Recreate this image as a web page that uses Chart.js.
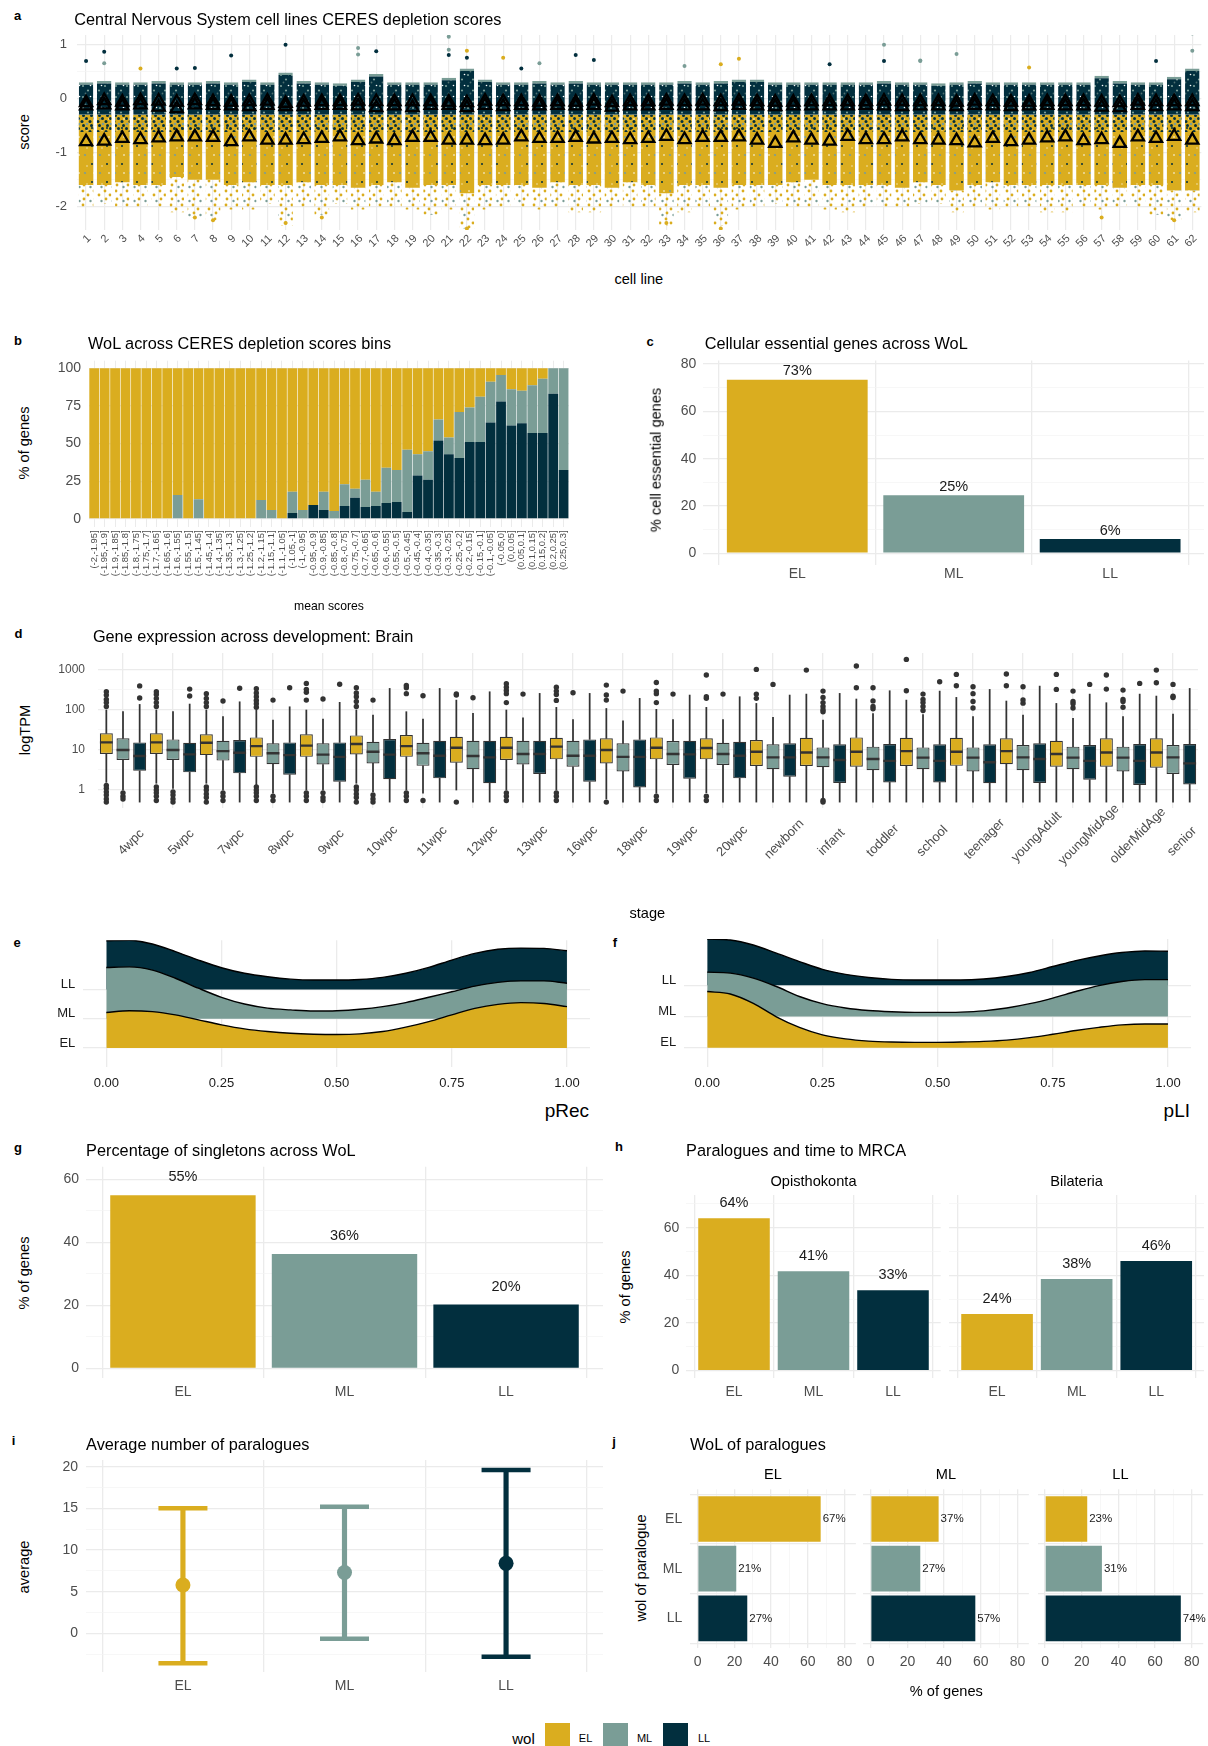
<!DOCTYPE html>
<html>
<head>
<meta charset="utf-8">
<title>WoL figure</title>
<script src="https://cdn.jsdelivr.net/npm/chart.js@4.4.1/dist/chart.umd.min.js"></script>
<style>
html,body{margin:0;padding:0;background:#fff;}
#root{position:relative;width:1208px;height:1746px;overflow:hidden;background:#fff;font-family:"Liberation Sans",Arial,Helvetica,sans-serif;}
#root canvas{position:absolute;}
.t{position:absolute;white-space:nowrap;line-height:1;color:#000;}
.sw{position:absolute;}
</style>
</head>
<body>
<div id="root"></div>
<script>
// ================= DATA =================
const WOL = ['EL','ML','LL'];

// ---- a: CERES depletion scores per cell line
const aCells = ['1','2','3','4','5','6','7','8','9','10','11','12','13','14','15','16','17','18','19','20','21','22','23','24','25','26','27','28','29','30','31','32','33','34','35','36','37','38','39','40','41','42','43','44','45','46','47','48','49','50','51','52','53','54','55','56','57','58','59','60','61','62'];
const aTop = [0.3,0.32,0.3,0.3,0.32,0.3,0.3,0.32,0.3,0.35, 0.3,0.48,0.32,0.3,0.28,0.35,0.45,0.3,0.3,0.3, 0.38,0.55,0.35,0.3,0.3,0.32,0.3,0.32,0.3,0.3, 0.3,0.3,0.3,0.32,0.3,0.32,0.35,0.35,0.3,0.3, 0.3,0.3,0.3,0.3,0.32,0.3,0.3,0.28,0.3,0.32, 0.3,0.3,0.3,0.3,0.3,0.3,0.42,0.32,0.3,0.3, 0.4,0.55];
const aDenseLow = [-1.6,-1.6,-1.55,-1.6,-1.6,-1.45,-1.5,-1.5,-1.6,-1.55, -1.6,-1.6,-1.55,-1.6,-1.6,-1.65,-1.6,-1.55,-1.65,-1.6, -1.6,-1.75,-1.6,-1.6,-1.6,-1.65,-1.55,-1.6,-1.6,-1.65, -1.55,-1.6,-1.75,-1.6,-1.6,-1.65,-1.6,-1.6,-1.6,-1.55, -1.5,-1.6,-1.6,-1.6,-1.6,-1.65,-1.55,-1.6,-1.7,-1.6, -1.55,-1.6,-1.6,-1.6,-1.6,-1.6,-1.6,-1.65,-1.6,-1.6, -1.7,-1.7];
const aMin = [-2.0,-1.95,-2.0,-2.0,-2.0,-2.1,-2.2,-2.25,-2.05,-2.05, -1.95,-2.35,-2.0,-2.15,-1.95,-2.05,-2.0,-2.0,-2.05,-2.15, -2.05,-2.4,-2.05,-2.0,-2.0,-2.05,-2.0,-2.1,-2.1,-2.0, -2.0,-2.0,-2.35,-2.1,-2.0,-2.35,-2.05,-2.0,-1.95,-2.0, -2.0,-2.05,-2.1,-2.0,-2.0,-2.0,-1.95,-1.95,-2.1,-2.0, -2.05,-2.0,-2.0,-2.1,-2.1,-2.0,-2.05,-2.0,-2.0,-2.15, -2.25,-2.1];
const aDarkLow = -0.3;   // lower edge of the dense late-lineage cloud
const aMixLow = -0.62;   // lower edge of the mixed cloud
const aELMean = [-0.80,-0.79,-0.74,-0.76,-0.73,-0.71,-0.71,-0.72,-0.80,-0.71, -0.77,-0.77,-0.76,-0.74,-0.71,-0.78,-0.75,-0.78,-0.72,-0.72, -0.77,-0.77,-0.78,-0.77,-0.71,-0.74,-0.74,-0.72,-0.75,-0.74, -0.76,-0.74,-0.70,-0.76,-0.72,-0.72,-0.71,-0.77,-0.83,-0.73, -0.77,-0.79,-0.70,-0.76,-0.76,-0.71,-0.76,-0.77,-0.78,-0.82, -0.74,-0.80,-0.77,-0.73,-0.71,-0.78,-0.76,-0.83,-0.71,-0.74, -0.70,-0.77];
const aMLMean = [-0.14,-0.12,-0.14,-0.12,-0.16,-0.19,-0.12,-0.13,-0.14,-0.15, -0.13,-0.15,-0.15,-0.13,-0.13,-0.14,-0.17,-0.14,-0.17,-0.13, -0.13,-0.17,-0.13,-0.15,-0.13,-0.14,-0.13,-0.14,-0.13,-0.16, -0.14,-0.14,-0.13,-0.14,-0.14,-0.15,-0.13,-0.14,-0.15,-0.14, -0.14,-0.14,-0.14,-0.13,-0.14,-0.15,-0.14,-0.14,-0.15,-0.13, -0.14,-0.15,-0.14,-0.13,-0.14,-0.14,-0.16,-0.17,-0.13,-0.15, -0.14,-0.15];
const aLLMean = [-0.08,-0.04,-0.07,-0.04,-0.05,-0.07,-0.04,-0.06,-0.07,-0.06, -0.05,-0.09,-0.07,-0.06,-0.06,-0.05,-0.06,-0.06,-0.06,-0.06, -0.07,-0.08,-0.05,-0.06,-0.06,-0.07,-0.06,-0.07,-0.05,-0.08, -0.06,-0.06,-0.05,-0.06,-0.05,-0.06,-0.05,-0.06,-0.07,-0.07, -0.06,-0.06,-0.06,-0.06,-0.05,-0.06,-0.06,-0.06,-0.07,-0.05, -0.06,-0.07,-0.07,-0.06,-0.06,-0.06,-0.07,-0.08,-0.05,-0.06, -0.06,-0.06];
const aOutLL = [[1,0.69],[2,0.86],[6,0.55],[7,0.56],[9,0.79],[12,0.99],[17,0.87],[21,0.8],[22,0.75],[25,0.55],[28,0.8],[29,0.71],[42,0.63],[45,0.69],[60,0.69]];
const aOutML = [[2,0.65],[16,0.93],[16,0.81],[21,0.9],[21,1.14],[26,0.65],[34,0.6],[45,0.99],[47,0.7],[47,0.69],[49,0.82],[62,1.2],[62,0.88]];
const aOutEL = [[4,0.55],[22,0.88],[24,0.75],[36,0.63],[37,0.73],[53,0.57],[7,-2.2],[8,-2.25],[12,-2.3],[14,-2.2],[22,-2.4],[33,-2.3],[36,-2.4],[57,-2.2],[61,-2.25]];

// ---- b: WoL across CERES bins (percent of genes)
const bBins = ['(-2,-1.95]','(-1.95,-1.9]','(-1.9,-1.85]','(-1.85,-1.8]','(-1.8,-1.75]','(-1.75,-1.7]','(-1.7,-1.65]','(-1.65,-1.6]','(-1.6,-1.55]','(-1.55,-1.5]','(-1.5,-1.45]','(-1.45,-1.4]','(-1.4,-1.35]','(-1.35,-1.3]','(-1.3,-1.25]','(-1.25,-1.2]','(-1.2,-1.15]','(-1.15,-1.1]','(-1.1,-1.05]','(-1.05,-1]','(-1,-0.95]','(-0.95,-0.9]','(-0.9,-0.85]','(-0.85,-0.8]','(-0.8,-0.75]','(-0.75,-0.7]','(-0.7,-0.65]','(-0.65,-0.6]','(-0.6,-0.55]','(-0.55,-0.5]','(-0.5,-0.45]','(-0.45,-0.4]','(-0.4,-0.35]','(-0.35,-0.3]','(-0.3,-0.25]','(-0.25,-0.2]','(-0.2,-0.15]','(-0.15,-0.1]','(-0.1,-0.05]','(-0.05,0]','(0,0.05]','(0.05,0.1]','(0.1,0.15]','(0.15,0.2]','(0.2,0.25]','(0.25,0.3]'];
const bLL = [0,0,0,0,0,0,0,0,0,0, 0,0,0,0,0,0,0,0,0,4, 0,9.3,6,0,8.6,14,8,8.6,10.6,11.3, 4.6,28.8,26,52,43,40.5,51,51,64,78, 62,63.5,57,57,83,32.5];
const bML = [0,0,0,0,0,0,0,0,15.9,0, 13,0,0,0,0,0,12.6,6,0,14, 6,0,12,5.3,14.4,6,18,9.4,23.4,21.2, 41.4,14.2,19,14,11,30.5,23,30,27,17.5, 24,21.5,31.7,36,17,67.5];
const bEL = [100,100,100,100,100,100,100,100,84.1,100, 87,100,100,100,100,100,87.4,94,100,82, 94,90.7,82,94.7,77,80,74,82,66,67.5, 54,57,55,34,46,29,26,19,9,4.5, 14,15,11.3,7,0,0];

// ---- c: cellular essential genes
const cValues = [73.4, 24.5, 6.0];
const cTexts = ['73%','25%','6%'];

// ---- d: gene expression boxplots (TPM)
const dStages = ['4wpc','5wpc','7wpc','8wpc','9wpc','10wpc','11wpc','12wpc','13wpc','16wpc','18wpc','19wpc','20wpc','newborn','infant','toddler','school','teenager','youngAdult','youngMidAge','olderMidAge','senior'];
const dELlo  = [1.55,1.47,1.47,1.33,1.0,1.47,1.0,1.0,1.0,1.0,0.6,0.83,0.86,0.5,0.5,0.5,0.5,0.5,0.5,0.5,0.5,0.5];
const dELq1  = [7.9,7.9,7.4,6.7,6.7,7.7,6.7,4.8,5.6,5.8,4.6,5.8,5.8,3.95,3.95,3.8,3.95,4.0,4.4,3.8,3.8,3.6];
const dELmed = [15.3,15.3,15.0,12.4,12.7,14.0,12.4,11.3,11.3,12.0,9.9,11.3,11.1,9.0,8.6,9.0,9.3,9.0,9.3,7.9,8.6,8.6];
const dELq3  = [25.7,25.7,24.3,20.4,24.3,22.9,23.4,21.2,21.2,20.0,19.3,20.4,19.3,17.5,20.0,20.4,20.0,20.0,19.3,16.9,19.3,19.3];
const dELhi  = [98,98,98,98,98,98,89,173,98,114,107,102,114,143,244,184,173,202,164,143,149,218];
const dMLlo  = [1.0,1.1,1.0,0.83,1.0,0.91,0.83,0.5,0.5,0.5,0.5,0.5,0.5,0.5,0.6,0.5,0.5,0.5,0.5,0.5,0.5,0.5];
const dMLq1  = [5.6,5.6,5.4,4.4,4.3,4.6,4.0,3.3,4.3,3.8,2.9,4.2,4.2,3.3,3.7,3.1,3.3,2.9,3.1,3.3,2.9,2.5];
const dMLmed = [9.9,9.9,9.3,8.2,7.6,9.0,8.2,7.0,7.9,7.1,6.7,7.9,7.9,6.5,6.5,5.9,6.4,6.4,6.5,6.4,6.4,6.5];
const dMLq3  = [19.3,18.2,16.9,14.5,14.5,15.9,15.0,16.9,16.9,16.9,14.5,16.6,15.0,13.7,11.5,12.0,11.5,11.5,13.2,12.0,12.0,13.2];
const dMLhi  = [89,89,67,55,58,73,58,81,63,57,53,57,57,64,55,80,75,67,73,61,67,78];
const dLLlo  = [0.5,0.5,0.5,0.5,0.5,0.5,0.5,0.5,0.5,0.5,0.5,0.5,0.5,0.5,0.5,0.5,0.5,0.5,0.5,0.5,0.5,0.5];
const dLLq1  = [3.0,2.75,2.6,2.4,1.6,1.85,1.95,1.47,2.5,1.6,1.16,1.9,1.95,2.15,1.5,1.55,1.55,1.47,1.5,1.8,1.33,1.38];
const dLLmed = [7.0,7.7,8.5,7.4,6.7,7.6,7.1,6.5,7.9,7.1,6.7,7.7,7.1,6.5,5.6,5.3,5.3,4.9,5.9,5.3,5.3,4.6];
const dLLq3  = [15.3,15.0,17.5,15.3,15.3,18.6,16.9,16.9,16.9,18.2,18.2,16.9,15.9,14.5,13.7,13.9,13.7,13.7,14.5,13.2,13.9,13.9];
const dLLhi  = [135,138,157,118,152,338,338,279,254,254,191,231,210,231,254,296,290,319,386,244,244,338];
const dELout = [[120,150,180,230,280,1.3,1.1,0.9,0.75,0.6,0.5],[120,150,190,240,280,1.2,1.0,0.85,0.7,0.55],[120,150,190,250,1.2,1.0,0.8,0.65,0.5],[115,140,170,210,260,330,1.2,1.0,0.85,0.7,0.55],[173,270,320,450,0.85,0.7,0.55],[120,160,210,260,350,1.2,1.0,0.8,0.65,0.5],[250,350,400,0.85,0.7,0.55],[230,245,0.5],[150,250,300,360,440,0.85,0.7,0.55],[170,240,290,360,0.85,0.7,0.55],[173,231,409,0.5],[150,250,290,476,0.7,0.55],[191,210,726,0.7,0.55],[191,244,1005],[966],[351,1215],[296,1780],[394,754],[394,769],[319,754],[325,726],[468,966]];
const dMLout = [[0.85,0.7,0.6],[0.9,0.75,0.6,0.5],[164,0.85,0.7,0.55],[173,0.7,0.55],[184,0.85,0.65,0.55],[173,0.75,0.6,0.5],[222,0.55],[198],[244],[264],[290],[244],[244],[425],[89,100,120,150,200,290,0.55,0.5],[105,120,165,351],[95,120,150,180,244],[110,160,250,372],[145,175,372],[110,140,160,290],[115,160,180,307],[200,215,425]];
const dLLout = [[195,390],[218,325],[340],[350],[430],[],[],[],[],[],[],[],[],[],[],[],[495],[],[],[425],[450],[]];

// ---- e / f: ridgeline densities (height above each WoL baseline)
const ridgeX = [0,0.05,0.1,0.15,0.2,0.25,0.3,0.35,0.4,0.45,0.5,0.55,0.6,0.65,0.7,0.75,0.8,0.85,0.9,0.95,1];
const eEL = [1.21,1.27,1.24,1.13,0.96,0.79,0.65,0.56,0.50,0.47,0.46,0.48,0.56,0.71,0.90,1.13,1.35,1.49,1.55,1.52,1.41];
const eML = [1.75,1.77,1.66,1.38,1.04,0.73,0.50,0.36,0.30,0.26,0.27,0.32,0.41,0.55,0.73,0.92,1.11,1.24,1.29,1.29,1.21];
const eLL = [1.66,1.68,1.55,1.29,1.00,0.74,0.55,0.43,0.35,0.32,0.32,0.34,0.41,0.55,0.75,1.00,1.23,1.37,1.41,1.40,1.32];
const fEL = [1.80,1.72,1.42,0.99,0.65,0.41,0.28,0.21,0.18,0.17,0.17,0.18,0.20,0.24,0.32,0.43,0.55,0.65,0.73,0.76,0.76];
const fML = [1.42,1.39,1.23,0.96,0.64,0.41,0.27,0.19,0.15,0.13,0.13,0.14,0.18,0.27,0.41,0.59,0.80,0.99,1.12,1.18,1.18];
const fLL = [1.48,1.45,1.29,1.03,0.76,0.51,0.35,0.25,0.19,0.17,0.17,0.17,0.20,0.28,0.41,0.60,0.79,0.94,1.05,1.10,1.09];

// ---- g: singletons
const gValues = [55.0, 36.3, 20.3];
const gTexts = ['55%','36%','20%'];

// ---- h: paralogues and time to MRCA
const hFacets = ['Opisthokonta','Bilateria'];
const hOpis = [63.9, 41.7, 33.7];
const hOpisTexts = ['64%','41%','33%'];
const hBil = [23.8, 38.4, 46.0];
const hBilTexts = ['24%','38%','46%'];

// ---- i: average number of paralogues
const iMean = [5.8, 7.3, 8.4];
const iLow = [-3.6, -0.65, -2.8];
const iHigh = [15.0, 15.2, 19.6];

// ---- j: WoL of paralogues (facet = WoL of gene, bars = WoL of paralogue)
const jEL = [67, 21, 27]; const jELTexts = ['67%','21%','27%'];
const jML = [37, 27, 57]; const jMLTexts = ['37%','27%','57%'];
const jLL = [23, 31, 74]; const jLLTexts = ['23%','31%','74%'];

// ================= STYLE / HELPERS =================
const COL = {EL:'#DAAD1F', ML:'#7A9D96', LL:'#022F3E'};
const WCOL = [COL.EL, COL.ML, COL.LL];
const GMAJ = '#EBEBEB', GMIN = '#F3F3F3';
const FONT = '"Liberation Sans", Arial, Helvetica, sans-serif';

Chart.defaults.font.family = FONT;
Chart.defaults.color = '#4D4D4D';
Chart.defaults.animation = false;
Chart.defaults.responsive = false;
Chart.defaults.maintainAspectRatio = false;
Chart.defaults.events = [];
Chart.defaults.plugins.legend.display = false;
Chart.defaults.plugins.tooltip.enabled = false;

// value labels next to bars (positions taken from the bar elements / value scale)
Chart.register({
  id: 'barText',
  afterDatasetsDraw(chart, args, o) {
    if (!o || !o.texts) return;
    const meta = chart.getDatasetMeta(0);
    const ctx = chart.ctx;
    ctx.save();
    ctx.font = (o.size || 14) + 'px ' + FONT;
    ctx.fillStyle = o.color || '#1A1A1A';
    ctx.textBaseline = 'middle';
    meta.data.forEach((el, i) => {
      if (o.horizontal) {
        ctx.textAlign = 'left';
        ctx.fillText(o.texts[i], chart.scales.x.getPixelForValue(o.values[i]) + (o.gap || 2), el.y);
      } else {
        ctx.textAlign = 'center';
        ctx.fillText(o.texts[i], el.x, chart.scales.y.getPixelForValue(o.values[i] + o.offset));
      }
    });
    ctx.restore();
  }
});

// rotated category labels placed like ggplot's angle=45 axis text (positions from the x scale ticks)
Chart.register({
  id: 'rotLabels',
  afterDraw(chart, args, o) {
    if (!o || !o.labels) return;
    const sx = chart.scales.x, ctx = chart.ctx, area = chart.chartArea;
    ctx.save();
    ctx.font = (o.size || 13) + 'px ' + FONT;
    ctx.fillStyle = o.color || '#4D4D4D';
    ctx.textBaseline = 'middle';
    ctx.textAlign = 'left';
    o.labels.forEach((lab, k) => {
      const px = sx.getPixelForTick(o.first + k * o.step);
      const w = ctx.measureText(lab).width;
      ctx.save();
      ctx.translate(px + o.dx, area.bottom + o.dy);
      ctx.rotate(-Math.PI / 4);
      ctx.fillText(lab, -o.h * w, 0);
      ctx.restore();
    });
    ctx.restore();
  }
});

const root = document.getElementById('root');
const setTicks = vals => s => { s.ticks = vals.map(v => ({value: v})); };
const majorLabel = (majors, fmt) => v => majors.includes(v) ? (fmt ? fmt(v) : String(v)) : '';
const tv = c => (c.tick ? c.tick.value : null);
const mmGrid = majors => ({drawTicks:false, color: c => majors.includes(tv(c)) ? GMAJ : GMIN, lineWidth: c => majors.includes(tv(c)) ? 1.3 : 0.7});
const NB = {display:false};

// texture that imitates a dense cloud of jittered points (style only)
function dotPattern(bg, dots, w, h) {
  const c = document.createElement('canvas');
  c.width = w; c.height = h;
  const g = c.getContext('2d');
  if (bg) { g.fillStyle = bg; g.fillRect(0, 0, w, h); }
  dots.forEach(d => { g.fillStyle = d[3]; g.beginPath(); g.arc(d[0], d[1], d[2], 0, Math.PI * 2); g.fill(); });
  return g.createPattern(c, 'repeat');
}

function makeChart(area, yw, xh, padT, padR, cfg) {
  padT = Math.max(padT, 28);
  const left = Math.floor(area.l - yw), top = Math.floor(area.t - padT);
  const right = Math.ceil(area.r + padR), bottom = Math.ceil(area.b + xh);
  const W = right - left, H = bottom - top;
  const c = document.createElement('canvas');
  c.width = W; c.height = H;
  c.style.left = left + 'px'; c.style.top = top + 'px';
  c.style.width = W + 'px'; c.style.height = H + 'px';
  root.appendChild(c);
  const ywR = area.l - left, xhR = bottom - area.b;
  cfg.options.layout = {autoPadding:false, padding: {left: 0, right: right - area.r, top: area.t - top, bottom: 0}};
  cfg.options.scales.x.afterFit = s => { s.height = xhR; };
  cfg.options.scales.y.afterFit = s => { s.width = ywR; };
  return new Chart(c, cfg);
}

function txt(s, x, y, o) {
  o = o || {};
  const d = document.createElement('div');
  d.className = 't';
  d.textContent = s;
  d.style.fontSize = (o.size || 14.6) + 'px';
  if (o.bold) d.style.fontWeight = 'bold';
  if (o.color) d.style.color = o.color;
  d.style.left = x + 'px'; d.style.top = y + 'px';
  const ax = o.align === 'l' ? '0' : (o.align === 'r' ? '-100%' : '-50%');
  d.style.transform = 'translate(' + ax + ',-50%)' + (o.rot ? ' rotate(-90deg)' : '');
  root.appendChild(d);
}
function swatch(x, y, w, h, color) {
  const d = document.createElement('div');
  d.className = 'sw';
  d.style.left = x + 'px'; d.style.top = y + 'px';
  d.style.width = w + 'px'; d.style.height = h + 'px';
  d.style.background = color;
  root.appendChild(d);
}

// ================= PANEL a =================
(function () {
  const pDark = dotPattern(COL.LL, [[2,2,1.1,COL.ML],[7,6.5,1.1,COL.ML],[4.5,9.5,0.9,'#4f6f70'],[9.5,1.5,0.8,'#ffffff']], 11, 11);
  const pMix = dotPattern(null, [[1.5,1.5,1.5,COL.LL],[5,4.5,1.5,COL.LL],[2,7,1.3,COL.ML],[6.5,8.5,1.5,COL.LL]], 8, 10);
  const pEL = dotPattern(COL.EL, [[3,4,1.1,COL.ML],[10,13,1.0,COL.LL],[12,4,0.8,'#ffffff'],[5,15,0.8,'#f3e3b0']], 15, 18);
  const pSparse = dotPattern(null, [[2,2,1.4,COL.EL],[7,6,1.4,COL.EL],[3,10,1.4,COL.EL],[9.5,12,1.2,COL.ML]], 11, 14);
  const tri = data => ({type:'line', data, showLine:false, pointStyle:'triangle', pointRadius:7, pointBorderWidth:2.3, pointBorderColor:'#000', pointBackgroundColor:'rgba(0,0,0,0)'});
  const pts = (list, color) => ({type:'scatter', data: list.map(p => ({x: String(p[0]), y: p[1]})), pointRadius:2, pointBackgroundColor: color, pointBorderWidth:0});
  const bar = (data, color, extra) => Object.assign({type:'bar', data, backgroundColor: color, grouped:false, barPercentage:0.8, categoryPercentage:1}, extra || {});
  makeChart({l:77, r:77 + 62 * 18.135, t:35, b:230}, 40, 24, 6, 5, {
    type:'bar',
    data:{labels:aCells, datasets:[
      tri(aLLMean), tri(aMLMean), tri(aELMean),
      pts(aOutLL, COL.LL), pts(aOutML, COL.ML), pts(aOutEL, COL.EL),
      bar(aTop.map(t => [aDarkLow, t]), pDark, {borderColor: COL.ML, borderWidth:{top:2.5, left:0, right:0, bottom:0}, borderSkipped:false}),
      bar(aTop.map(() => [aMixLow, aDarkLow]), pMix),
      bar(aDenseLow.map(v => [v, aDarkLow]), pEL),
      bar(aMin.map((v, i) => [v, aDenseLow[i]]), pSparse)
    ]},
    options:{scales:{
      x:{type:'category', offset:true, grid:{offset:false, color:GMAJ, lineWidth:1.2, drawTicks:false}, border:NB,
         ticks:{font:{size:11}, minRotation:45, maxRotation:45, autoSkip:false, padding:2, labelOffset:3}},
      y:{type:'linear', min:-2.43, max:1.17, afterBuildTicks: setTicks([-2,-1.5,-1,-0.5,0,0.5,1]),
         ticks:{callback: majorLabel([-2,-1,0,1]), font:{size:13}, padding:10, autoSkip:false}, grid: mmGrid([-2,-1,0,1]), border:NB}
    }}
  });
})();

// ================= PANEL b =================
makeChart({l:89, r:89 + 46 * 10.465, t:360.7, b:526.5}, 42, 58, 8, 8, {
  type:'bar',
  data:{labels:bBins, datasets:[
    {data:bLL, backgroundColor:COL.LL},
    {data:bML, backgroundColor:COL.ML},
    {data:bEL, backgroundColor:COL.EL}
  ]},
  options:{datasets:{bar:{barPercentage:0.94, categoryPercentage:1}}, scales:{
    x:{stacked:true, grid:{offset:false, color:GMAJ, lineWidth:1, drawTicks:false}, border:NB,
       ticks:{font:{size:9.4}, minRotation:90, maxRotation:90, autoSkip:false, padding:4}},
    y:{stacked:true, min:-5, max:105, afterBuildTicks: setTicks([0,25,50,75,100]),
       ticks:{font:{size:14}, padding:8, autoSkip:false}, grid:{color:GMAJ, lineWidth:1.3, drawTicks:false}, border:NB}
  }}
});

// ================= vertical 3-bar helper (c, g, h) =================
function vBars(area, values, texts, yMin, yMax, majors, minors, showY, tickSize, xPad, textOff, textSize) {
  return makeChart(area, showY ? 40 : 6, 30, 12, 4, {
    type:'bar',
    data:{datasets:[{data: values.map((v, i) => ({x:i, y:v})), backgroundColor: WCOL, barPercentage:0.9, categoryPercentage:1}]},
    options:{
      plugins:{barText:{texts, values, offset:textOff, size:textSize}},
      scales:{
        x:{type:'linear', offset:false, min:-0.6, max:2.6, afterBuildTicks: setTicks([0,1,2]),
           ticks:{callback: v => WOL[v], font:{size:tickSize}, padding:xPad, autoSkip:false, maxRotation:0}, grid:{color:GMAJ, lineWidth:1.3, drawTicks:false}, border:NB},
        y:{type:'linear', min:yMin, max:yMax, afterBuildTicks: setTicks(majors.concat(minors).sort((a, b) => a - b)),
           ticks:{display:showY, callback: majorLabel(majors), font:{size:tickSize}, padding:7, autoSkip:false}, grid: mmGrid(majors), border:NB}
      }
    }
  });
}

// ================= PANEL c =================
vBars({l:703.4, r:1204, t:360.6, b:565}, cValues, cTexts, -5, 81.5, [0,20,40,60,80], [10,30,50,70], true, 14, 1, 3.5, 14.5);

// ================= PANEL d =================
(function () {
  const labels = [];
  dStages.forEach(s => WOL.forEach(w => labels.push(s + ' ' + w)));
  const inter = (a, b, c) => { const r = []; for (let i = 0; i < a.length; i++) r.push(a[i], b[i], c[i]); return r; };
  const lo = inter(dELlo, dMLlo, dLLlo), q1 = inter(dELq1, dMLq1, dLLq1), med = inter(dELmed, dMLmed, dLLmed);
  const q3 = inter(dELq3, dMLq3, dLLq3), hi = inter(dELhi, dMLhi, dLLhi);
  const colors = labels.map((_, i) => WCOL[i % 3]);
  const outliers = [];
  [dELout, dMLout, dLLout].forEach((list, k) => list.forEach((vals, s) => vals.forEach(v => outliers.push({x: labels[s * 3 + k], y: v}))));
  const majors = [1, 10, 100, 1000];
  makeChart({l:98, r:98 + 66 * 16.667, t:653, b:808}, 45, 80, 8, 6, {
    type:'bar',
    data:{labels, datasets:[
      {type:'scatter', data: outliers, pointRadius:2.7, pointBackgroundColor:'#333333', pointBorderWidth:0},
      {type:'line', data: med, showLine:false, pointStyle:'line', pointRadius:6.4, pointBorderWidth:2.4, pointBorderColor:'#333333'},
      {type:'bar', data: q1.map((v, i) => [v, q3[i]]), backgroundColor: colors, borderColor:'#333333', borderWidth:1.2, borderSkipped:false, grouped:false, barPercentage:0.78, categoryPercentage:1},
      {type:'bar', data: lo.map((v, i) => [v, q1[i]]), backgroundColor:'#333333', barThickness:1.1, grouped:false},
      {type:'bar', data: q3.map((v, i) => [v, hi[i]]), backgroundColor:'#333333', barThickness:1.1, grouped:false}
    ]},
    options:{
      plugins:{rotLabels:{labels: dStages, first:1, step:3, dx:3.5, dy:39, h:0.28, size:13}},
      scales:{
      x:{type:'category', offset:true, border:NB,
         grid:{offset:false, drawTicks:false, lineWidth:1.3, color: c => (c.index % 3 === 1 ? GMAJ : 'rgba(0,0,0,0)')},
         ticks:{callback: () => '', autoSkip:false, maxRotation:0}},
      y:{type:'logarithmic', min:0.357, max:2570, afterBuildTicks: setTicks([1, 3.1623, 10, 31.623, 100, 316.23, 1000]),
         ticks:{callback: majorLabel(majors), font:{size:12}, padding:13, autoSkip:false}, grid: mmGrid(majors), border:NB}
    }}
  });
})();

// ================= PANELS e, f (ridgelines) =================
function ridges(area, yMin, yMax, hEL, hML, hLL) {
  const ds = (h, base, color) => ({data: ridgeX.map((x, i) => ({x, y: base + h[i]})), fill:{value: base}, backgroundColor: color,
    borderColor:'#000', borderWidth:1.4, pointRadius:0, cubicInterpolationMode:'monotone'});
  return makeChart(area, 40, 32, 6, 6, {
    type:'line',
    data:{datasets:[ds(hEL, 1, COL.EL), ds(hML, 2, COL.ML), ds(hLL, 3, COL.LL)]},
    options:{scales:{
      x:{type:'linear', min:-0.05, max:1.05, afterBuildTicks: setTicks([0,0.25,0.5,0.75,1]),
         ticks:{callback: v => v.toFixed(2), font:{size:13}, color:'#1A1A1A', padding:9, autoSkip:false, maxRotation:0}, grid:{color:GMAJ, lineWidth:1.3, drawTicks:false}, border:NB},
      y:{type:'linear', min:yMin, max:yMax, afterBuildTicks: setTicks([1,2,3]),
         ticks:{callback: v => WOL[v - 1], font:{size:13}, color:'#1A1A1A', padding:8, labelOffset:-5, autoSkip:false}, grid:{color:GMAJ, lineWidth:1.3, drawTicks:false}, border:NB}
    }}
  });
}
ridges({l:83.3, r:590, t:940.2, b:1067}, 0.35, 4.68, eEL, eML, eLL);
ridges({l:684.2, r:1191, t:939.1, b:1067}, 0.38, 4.48, fEL, fML, fLL);

// ================= PANEL g =================
vBars({l:86, r:603, t:1166.7, b:1378}, gValues, gTexts, -3.05, 64.05, [0,20,40,60], [10,30,50], true, 14, 6, 5.7, 14.5);

// ================= PANEL h =================
vBars({l:686.3, r:940.7, t:1195, b:1378}, hOpis, hOpisTexts, -3.1, 73.7, [0,20,40,60], [10,30,50,70], true, 14, 6, 6.3, 14.5);
vBars({l:949.3, r:1204, t:1195, b:1378}, hBil, hBilTexts, -3.1, 73.7, [0,20,40,60], [10,30,50,70], false, 14, 6, 6.3, 14.5);

// ================= PANEL i =================
makeChart({l:86, r:603, t:1460, b:1671.7}, 40, 30, 10, 4, {
  type:'bar',
  data:{datasets:[
    {type:'scatter', data: iMean.map((m, i) => ({x:i, y:m})), pointRadius:7.5, pointBackgroundColor: WCOL, pointBorderWidth:0},
    {type:'scatter', data: iHigh.map((v, i) => ({x:i, y:v})), pointStyle:'line', pointRadius:24.5, pointBorderWidth:4.5, pointBorderColor: WCOL},
    {type:'scatter', data: iLow.map((v, i) => ({x:i, y:v})), pointStyle:'line', pointRadius:24.5, pointBorderWidth:4.5, pointBorderColor: WCOL},
    {type:'bar', data: iLow.map((v, i) => ({x:i, y:[v, iHigh[i]]})), backgroundColor: WCOL, barThickness:4.5, grouped:false}
  ]},
  options:{scales:{
    x:{type:'linear', offset:false, min:-0.6, max:2.6, afterBuildTicks: setTicks([0,1,2]),
       ticks:{callback: v => WOL[v], font:{size:14}, padding:6, autoSkip:false, maxRotation:0}, grid:{color:GMAJ, lineWidth:1.3, drawTicks:false}, border:NB},
    y:{type:'linear', min:-4.6, max:20.8, afterBuildTicks: setTicks([-2.5,0,2.5,5,7.5,10,12.5,15,17.5,20]),
       ticks:{callback: majorLabel([0,5,10,15,20]), font:{size:14}, padding:8, autoSkip:false}, grid: mmGrid([0,5,10,15,20]), border:NB}
  }}
});

// ================= PANEL j =================
function jFacet(area, values, texts, showY) {
  return makeChart(area, showY ? 40 : 6, 24, 8, 4, {
    type:'bar',
    data:{datasets:[{data: values.map((v, i) => ({x:v, y:i})), backgroundColor: WCOL, barPercentage:0.92, categoryPercentage:1}]},
    options:{indexAxis:'y',
      plugins:{barText:{texts, values, horizontal:true, gap:2, size:11.5}},
      scales:{
        x:{type:'linear', min:-4.1, max:86.2, afterBuildTicks: setTicks([0,10,20,30,40,50,60,70,80]),
           ticks:{callback: majorLabel([0,20,40,60,80]), font:{size:14}, padding:6, autoSkip:false, maxRotation:0, minRotation:0}, grid: mmGrid([0,20,40,60,80]), border:NB},
        y:{type:'linear', offset:false, reverse:true, min:-0.6, max:2.6, afterBuildTicks: setTicks([0,1,2]),
           ticks:{display:showY, callback: v => WOL[v], font:{size:14}, padding:8, autoSkip:false}, grid:{color:GMAJ, lineWidth:1.3, drawTicks:false}, border:NB}
      }}
  });
}
jFacet({l:690.2, r:855.9, t:1489.2, b:1648.2}, jEL, jELTexts, true);
jFacet({l:863.2, r:1028.9, t:1489.2, b:1648.2}, jML, jMLTexts, false);
jFacet({l:1037.5, r:1203.2, t:1489.2, b:1648.2}, jLL, jLLTexts, false);

// ================= TEXT =================
const TS = 16.3;
[['a',17.5,15],['b',18,340],['c',650,341],['d',18.5,633],['e',17,942],['f',615,942],['g',18,1147],['h',619,1146],['i',13.5,1440],['j',614,1441]]
  .forEach(p => txt(p[0], p[1], p[2], {size:13, bold:true}));
txt('Central Nervous System cell lines CERES depletion scores', 74.3, 18.5, {size:TS, align:'l'});
txt('WoL across CERES depletion scores bins', 88, 342.7, {size:TS, align:'l'});
txt('Cellular essential genes across WoL', 704.7, 342.7, {size:TS, align:'l'});
txt('Gene expression across development: Brain', 92.9, 636, {size:TS, align:'l'});
txt('Percentage of singletons across WoL', 86.1, 1150, {size:TS, align:'l'});
txt('Paralogues and time to MRCA', 686.1, 1150, {size:TS, align:'l'});
txt('Average number of paralogues', 86.1, 1444, {size:TS, align:'l'});
txt('WoL of paralogues', 690, 1444, {size:TS, align:'l'});
txt('score', 24, 131.7, {rot:true});
txt('cell line', 638.8, 279);
txt('% of genes', 24, 443.3, {rot:true});
txt('mean scores', 329, 606, {size:12.2});
txt('% cell essential genes', 656.2, 460, {rot:true});
txt('logTPM', 24.5, 730, {rot:true});
txt('stage', 647.3, 913.3);
txt('pRec', 589, 1110, {size:19, align:'r'});
txt('pLI', 1190, 1110, {size:19, align:'r'});
txt('% of genes', 24, 1273.3, {rot:true});
txt('% of genes', 625.2, 1286.7, {rot:true});
txt('Opisthokonta', 813.5, 1180.7);
txt('Bilateria', 1076.6, 1180.7);
txt('average', 24, 1566.7, {rot:true});
txt('wol of paralogue', 640.7, 1568.3, {rot:true});
txt('EL', 773, 1474);
txt('ML', 946, 1474);
txt('LL', 1120.4, 1474);
txt('% of genes', 946.3, 1690.7);
txt('wol', 523.5, 1738, {size:15});
swatch(545, 1723, 25, 23, COL.EL); txt('EL', 585.6, 1738, {size:11});
swatch(603, 1723, 25, 23, COL.ML); txt('ML', 644.6, 1738, {size:11});
swatch(663, 1723, 25, 23, COL.LL); txt('LL', 704, 1738, {size:11});
</script>
</body>
</html>
